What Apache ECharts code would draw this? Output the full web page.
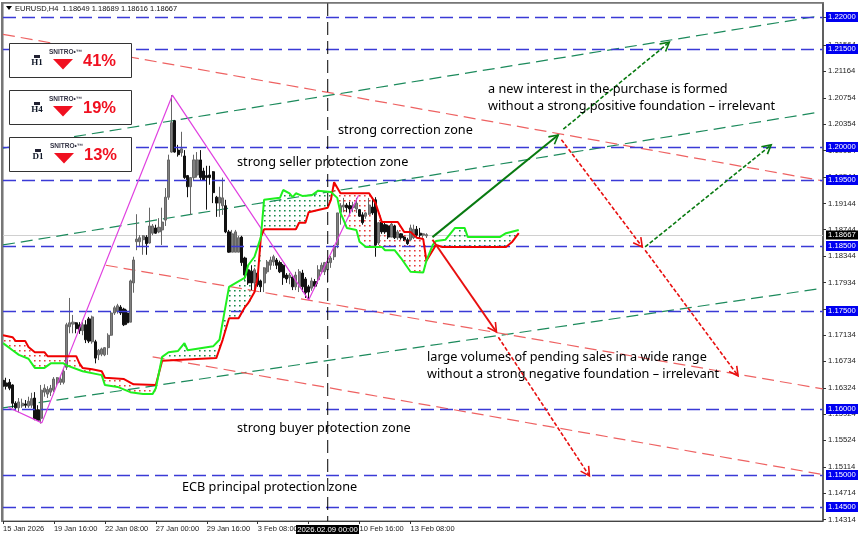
<!DOCTYPE html>
<html><head><meta charset="utf-8"><title>EURUSD H4</title>
<style>html,body{margin:0;padding:0;background:#fff}#c{width:860px;height:538px}</style>
<script src="https://cdn.jsdelivr.net/npm/echarts@6/dist/echarts.min.js"></script>
</head><body><div id="c"></div>
<script>
const timeTickBars=[0,16,32,48,64,80,96,112,128];
const timeTickLabels=["15 Jan 2026","19 Jan 16:00","22 Jan 08:00","27 Jan 00:00","29 Jan 16:00","3 Feb 08:00","6 Feb 00:00","10 Feb 16:00","13 Feb 08:00"];
const priceTicks=[1.21984,1.21564,1.21164,1.20754,1.20354,1.19954,1.19544,1.19144,1.18744,1.18344,1.17934,1.17534,1.17134,1.16734,1.16324,1.15924,1.15524,1.15114,1.14714,1.14314];
const levels=[1.22,1.215,1.2,1.195,1.185,1.175,1.16,1.15,1.145];
const lastPrice=1.18667;
const cursorBar=102;
// [open, close, low, high]
const candles=[
[1.1644,1.1635,1.1629,1.1651],[1.1640,1.1635,1.1630,1.1648],[1.1641,1.1632,1.1629,1.1646],[1.1637,1.1609,1.1602,1.1638],[1.1609,1.1602,1.1597,1.1612],
[1.1602,1.1611,1.1595,1.1617],[1.1605,1.1609,1.1602,1.1616],[1.1608,1.1606,1.1602,1.1614],[1.1605,1.1612,1.1602,1.1619],[1.1606,1.1616,1.1602,1.1625],
[1.1617,1.1585,1.1583,1.1626],[1.1599,1.1583,1.1582,1.1606],[1.1586,1.1629,1.1578,1.1637],[1.1626,1.1632,1.1619,1.1638],[1.1623,1.1630,1.1617,1.1635],
[1.1626,1.1632,1.1620,1.1637],[1.1629,1.1646,1.1626,1.1649],[1.1640,1.1648,1.1635,1.1649],[1.1641,1.1646,1.1637,1.1651],[1.1641,1.1658,1.1638,1.1661],
[1.1664,1.1729,1.1660,1.1732],[1.1726,1.1732,1.1716,1.1770],[1.1730,1.1733,1.1716,1.1744],[1.1732,1.1723,1.1716,1.1733],[1.1729,1.1720,1.1715,1.1733],
[1.1720,1.1729,1.1713,1.1733],[1.1729,1.1706,1.1701,1.1736],[1.1738,1.1704,1.1701,1.1741],[1.1703,1.1741,1.1700,1.1743],[1.1703,1.1678,1.1670,1.1706],
[1.1683,1.1690,1.1675,1.1692],[1.1684,1.1692,1.1681,1.1694],[1.1683,1.1694,1.1681,1.1695],[1.1694,1.1713,1.1683,1.1716],[1.1713,1.1747,1.1712,1.1750],
[1.1747,1.1755,1.1744,1.1758],[1.1749,1.1758,1.1746,1.1761],[1.1756,1.1747,1.1744,1.1759],[1.1753,1.1729,1.1727,1.1755],[1.1747,1.1732,1.1729,1.1752],
[1.1733,1.1796,1.1733,1.1798],[1.1793,1.1828,1.1778,1.1833],[1.1856,1.1860,1.1843,1.1898],[1.1856,1.1862,1.1848,1.1866],[1.1859,1.1865,1.1836,1.1866],
[1.1863,1.1853,1.1836,1.1866],[1.1854,1.1880,1.1853,1.1908],[1.1869,1.1880,1.1866,1.1883],[1.1877,1.1869,1.1868,1.1882],[1.1871,1.1878,1.1869,1.1892],
[1.1874,1.1886,1.1851,1.1908],[1.1889,1.1924,1.1880,1.1938],[1.1924,1.1981,1.1920,1.1989],[1.1993,1.2038,1.1992,1.2080],[1.2041,1.1993,1.1992,1.2042],
[1.1996,1.1989,1.1986,1.2004],[1.1992,1.1998,1.1986,1.2024],[1.1987,1.1954,1.1952,1.1996],[1.1957,1.1940,1.1924,1.1958],[1.1940,1.1954,1.1897,1.1954],
[1.1954,1.1981,1.1950,1.1989],[1.1958,1.1981,1.1954,1.1993],[1.1981,1.1954,1.1950,1.1996],[1.1964,1.1950,1.1949,1.1969],[1.1957,1.1954,1.1905,1.1972],
[1.1958,1.1954,1.1943,1.1972],[1.1963,1.1931,1.1915,1.1964],[1.1924,1.1915,1.1894,1.1926],[1.1915,1.1924,1.1894,1.1940],[1.1911,1.1923,1.1897,1.1954],
[1.1911,1.1871,1.1869,1.1920],[1.1871,1.1840,1.1839,1.1874],[1.1840,1.1868,1.1840,1.1874],[1.1840,1.1871,1.1840,1.1874],[1.1840,1.1862,1.1840,1.1865],
[1.1863,1.1824,1.1819,1.1865],[1.1831,1.1805,1.1798,1.1833],[1.1813,1.1793,1.1790,1.1816],[1.1811,1.1793,1.1782,1.1820],[1.1793,1.1813,1.1779,1.1816],
[1.1808,1.1790,1.1787,1.1810],[1.1796,1.1787,1.1779,1.1798],[1.1793,1.1816,1.1779,1.1817],[1.1810,1.1825,1.1807,1.1828],[1.1820,1.1828,1.1813,1.1833],
[1.1825,1.1833,1.1819,1.1836],[1.1828,1.1820,1.1814,1.1831],[1.1824,1.1810,1.1808,1.1827],[1.1820,1.1801,1.1790,1.1822],[1.1805,1.1799,1.1793,1.1808],
[1.1801,1.1805,1.1791,1.1808],[1.1802,1.1787,1.1782,1.1804],[1.1787,1.1805,1.1782,1.1810],[1.1787,1.1810,1.1779,1.1814],[1.1808,1.1787,1.1779,1.1813],
[1.1799,1.1778,1.1770,1.1802],[1.1787,1.1779,1.1767,1.1790],[1.1785,1.1796,1.1781,1.1801],[1.1795,1.1788,1.1785,1.1799],[1.1798,1.1813,1.1791,1.1820],
[1.1810,1.1820,1.1807,1.1824],[1.1810,1.1824,1.1805,1.1825],[1.1813,1.1825,1.1793,1.1831],[1.1824,1.1831,1.1816,1.1834],[1.1833,1.1848,1.1828,1.1851],
[1.1851,1.1900,1.1846,1.1900],[1.1901,1.1911,1.1882,1.1915],[1.1909,1.1912,1.1901,1.1923],[1.1912,1.1908,1.1901,1.1915],[1.1911,1.1906,1.1897,1.1917],
[1.1908,1.1912,1.1901,1.1917],[1.1906,1.1915,1.1900,1.1923],[1.1905,1.1895,1.1894,1.1906],[1.1897,1.1885,1.1882,1.1901],[1.1895,1.1900,1.1891,1.1901],
[1.1898,1.1912,1.1897,1.1923],[1.1909,1.1900,1.1897,1.1924],[1.1920,1.1851,1.1833,1.1924],[1.1854,1.1885,1.1851,1.1886],[1.1886,1.1871,1.1868,1.1888],
[1.1882,1.1871,1.1868,1.1885],[1.1880,1.1863,1.1860,1.1882],[1.1863,1.1883,1.1863,1.1885],[1.1880,1.1862,1.1860,1.1882],[1.1862,1.1871,1.1859,1.1874],
[1.1868,1.1862,1.1859,1.1869],[1.1863,1.1859,1.1857,1.1865],[1.1859,1.1853,1.1851,1.1862],[1.1859,1.1877,1.1857,1.1882],[1.1862,1.1875,1.1860,1.1882],
[1.1875,1.1866,1.1862,1.1880],[1.1869,1.1866,1.1862,1.1877],[1.1866,1.1868,1.1862,1.1869],[1.18649,1.18667,1.18616,1.18689]];
// [bar, price]
const spanA=[[0,1.1701],[3,1.1690],[5,1.1683],[8,1.1677],[10,1.1663],[13,1.1663],[15,1.1670],[19,1.1670],[20,1.1667],[25,1.1658],[31,1.1652],[32,1.1637],[36,1.1634],[40,1.1626],[44,1.1623],[47,1.1623],[48,1.1632],[50,1.1680],[52,1.1687],[55,1.1689],[57,1.1701],[58,1.1690],[66,1.1696],[68,1.1706],[71,1.1787],[76,1.1801],[77,1.1820],[79,1.1833],[81,1.1863],[82,1.1920],[87,1.1923],[88,1.1935],[90,1.1930],[91,1.1924],[92,1.1930],[94,1.1926],[97,1.1927],[99,1.1934],[103,1.1932],[105,1.1923],[106,1.1900],[107,1.1889],[108,1.1877],[111,1.1874],[112,1.1856],[114,1.1848],[119,1.1848],[120,1.1843],[123,1.1843],[125,1.1831],[128,1.1810],[132,1.1809],[133,1.1827],[135,1.1851],[136,1.1857],[139,1.1859],[142,1.1877],[145,1.1877],[146,1.1863],[156,1.1863],[158,1.1869],[162,1.1874]];
const spanB=[[0,1.1713],[3,1.1710],[4,1.1704],[7,1.1704],[8,1.1695],[10,1.1687],[13,1.1687],[14,1.1681],[23,1.1681],[24,1.1670],[25,1.1663],[28,1.1661],[31,1.1658],[32,1.1648],[38,1.1646],[41,1.1638],[48,1.1637],[50,1.1674],[67,1.1678],[69,1.1706],[71,1.1739],[74,1.1739],[76,1.1756],[77,1.1762],[79,1.1779],[80,1.1802],[81,1.1863],[82,1.1875],[92,1.1875],[93,1.1885],[95,1.1885],[96,1.1901],[102,1.1908],[103,1.1920],[104,1.1947],[106,1.1930],[115,1.1930],[117,1.1915],[119,1.1886],[124,1.1886],[126,1.1871],[128,1.1871],[130,1.1862],[132,1.1860],[133,1.1827],[136,1.1851],[138,1.1848],[158,1.1848],[160,1.1856],[162,1.1869]];
const zigzag=[[1.6,1.1603],[12.2,1.1579],[53.2,1.2080],[96,1.1767],[111.7,1.1927]];
const greenChannels=[[[0,1.1999],[256.3,1.2201]],[[0,1.1851],[256.3,1.2054]],[[0,1.1602],[256.3,1.1784]]];
const redChannels=[[[0,1.2173],[257.5,1.1949]],[[32.3,1.1820],[257.5,1.1631]],[[47,1.1680],[257.5,1.1500]]];
// [bar from, price from, bar to, price to]
const arrowsSolidGreen=[[134.9,1.1863,174.4,1.2019]];
const arrowsDashedGreen=[[176,1.2028,209.3,1.2161],[201.7,1.1848,241.3,1.2004]];
const arrowsSolidRed=[[134.9,1.1859,155,1.1718]];
const arrowsDashedRed=[[175.4,1.2012,200.8,1.1848],[155.6,1.1710,184.2,1.1498],[201.7,1.1843,230.9,1.1651]];
const panels=[{tf:"H1",pct:"41%"},{tf:"H4",pct:"19%"},{tf:"D1",pct:"13%"}];
const notes=[
 ["strong correction zone",338,130],
 ["strong seller protection zone",237,162],
 ["a new interest in the purchase is formed",488,89],
 ["without a strong positive foundation \u2013 irrelevant",488,106],
 ["large volumes of pending sales in a wide range",427,357],
 ["without a strong negative foundation \u2013 irrelevant",427,374],
 ["strong buyer protection zone",237,428],
 ["ECB principal protection zone",182,487]];

const BLUE='#3a3ad6', TAGBLUE='#0000f0', UI='"Liberation Sans",Arial,sans-serif';
function at(line,i){
  if(i<line[0][0]||i>line[line.length-1][0])return null;
  for(let k=1;k<line.length;k++){if(i<=line[k][0]){const a=line[k-1],b=line[k];return a[1]+(b[1]-a[1])*(i-a[0])/(b[0]-a[0]);}}
  return null;
}
function hatch(params,api){
  const kids=[];const end=162;
  for(let i=0.3;i<end;i+=1.57){
    const a=at(spanA,i),b=at(spanB,i);if(a==null||b==null)continue;
    const px=api.coord([i,a]),py=api.coord([i,b]);
    const top=Math.min(px[1],py[1]),bot=Math.max(px[1],py[1]);
    const col=a>b?'#1a8c4a':'#e63a3a';
    for(let y=Math.ceil((top+1)/5)*5;y<bot-1;y+=5){
      kids.push({type:'rect',shape:{x:Math.round(px[0]),y:y,width:1.6,height:1.6},style:{fill:col}});
    }
  }
  return {type:'group',children:kids,silent:true};
}
function levelItem(params,api){
  const c=params.coordSys;const v=api.value(1);const y=Math.round(api.coord([0,v])[1])+.5;
  return {type:'group',children:[
    {type:'line',shape:{x1:c.x,y1:y,x2:c.x+c.width,y2:y},style:{stroke:BLUE,lineWidth:1.3,lineDash:[13,6]}},
    {type:'rect',shape:{x:826,y:y-5.5,width:32,height:10},style:{fill:TAGBLUE}},
    {type:'text',style:{x:842,y:y-.5,text:v.toFixed(5),fill:'#fff',font:'7.7px '+UI,textAlign:'center',textVerticalAlign:'middle'}}
  ]};
}
function lastItem(params,api){
  const c=params.coordSys;const v=api.value(1);const y=Math.round(api.coord([0,v])[1])+.5;
  return {type:'group',children:[
    {type:'line',shape:{x1:c.x,y1:y,x2:c.x+c.width,y2:y},style:{stroke:'#d0d0d0',lineWidth:1}},
    {type:'rect',shape:{x:826,y:y-5,width:32,height:9},style:{fill:'#000'}},
    {type:'text',style:{x:842,y:y-.5,text:v.toFixed(5),fill:'#fff',font:'7.7px '+UI,textAlign:'center',textVerticalAlign:'middle'}}
  ]};
}
function arrowSeries(rows,color,dash){
  return {type:'custom',data:rows,z:6,silent:true,encode:{x:[0,2],y:[1,3]},
    renderItem(params,api){
      const p=api.coord([api.value(0),api.value(1)]),q=api.coord([api.value(2),api.value(3)]);
      const t=Math.atan2(q[1]-p[1],q[0]-p[0]),L=10,s=.5;
      return {type:'group',children:[
        {type:'line',shape:{x1:p[0],y1:p[1],x2:q[0],y2:q[1]},style:{stroke:color,lineWidth:dash?1.6:2,lineDash:dash?[4,2]:null}},
        {type:'polyline',shape:{points:[[q[0]-L*Math.cos(t-s),q[1]-L*Math.sin(t-s)],[q[0],q[1]],[q[0]-L*Math.cos(t+s),q[1]-L*Math.sin(t+s)]]},style:{stroke:color,lineWidth:1.6,fill:null}}
      ]};
    }};
}
function lineS(data,color,width,dash,z){
  return {type:'line',data,showSymbol:false,silent:true,z:z||3,lineStyle:{color,width,type:dash||'solid'},clip:false};
}
const graphics=[];
graphics.push({type:'rect',shape:{x:1,y:2,width:2,height:520},style:{fill:'#777'},z:19});
graphics.push({type:'rect',shape:{x:1,y:2,width:823,height:1.5},style:{fill:'#777'},z:19});
graphics.push({type:'polygon',shape:{points:[[6,6],[12,6],[9,10]]},style:{fill:'#000'},z:20});
graphics.push({type:'text',x:15,y:4.5,style:{text:'EURUSD,H4  1.18649 1.18689 1.18616 1.18667',fill:'#111',font:'7.5px '+UI},z:20});
panels.forEach((p,k)=>{
  const top=43+47*k;const dx=k==2?1:0;
  graphics.push({type:'rect',shape:{x:9.5,y:top+.5,width:122,height:34},style:{fill:'#fff',stroke:'#333',lineWidth:1},z:20});
  graphics.push({type:'rect',shape:{x:34+dx,y:top+12,width:6,height:3},style:{fill:'#223'},z:21});
  graphics.push({type:'text',x:37+dx,y:top+15,style:{text:p.tf,fill:'#101828',font:'bold 9px "Liberation Serif",serif',textAlign:'center'},z:21});
  graphics.push({type:'text',x:49+dx,y:top+6,style:{text:'SNITRO\u2022\u2122',fill:'#334',font:'bold 6.5px '+UI},z:21});
  graphics.push({type:'polygon',shape:{points:[[53+dx,top+16],[73+dx,top+16],[63+dx,top+26.5]]},style:{fill:'#f01020'},z:21});
  graphics.push({type:'text',x:83+dx,y:top+10,style:{text:p.pct,fill:'#f01020',font:'bold 16.5px '+UI},z:21});
});
notes.forEach(n=>graphics.push({type:'text',x:n[1],y:n[2],style:{text:n[0],fill:'#000',font:'12.7px "Noto Sans",sans-serif',textVerticalAlign:'middle'},z:20}));
graphics.push({type:'rect',shape:{x:296,y:525,width:63,height:9},style:{fill:'#000'},z:20});
graphics.push({type:'text',x:327.5,y:529.5,style:{text:'2026.02.09 00:00',fill:'#fff',font:'7.8px '+UI,textAlign:'center',textVerticalAlign:'middle'},z:21});

const chart=echarts.init(document.getElementById('c'),null,{renderer:'canvas'});
chart.setOption({
 animation:false,backgroundColor:'#fff',
 grid:{left:2,top:3,width:821,height:518,show:true,borderColor:'#6a6a6a',borderWidth:1,backgroundColor:'#fff'},
 xAxis:{type:'value',min:0,max:257.57,splitLine:{show:false},
   axisLine:{show:true,onZero:false,lineStyle:{color:'#444',width:1}},
   axisTick:{show:true,length:3,lineStyle:{color:'#333'},customValues:timeTickBars},
   axisLabel:{customValues:timeTickBars,align:'left',margin:4,color:'#222',fontFamily:'Liberation Sans',fontSize:7.5,hideOverlap:false,
     formatter:v=>timeTickLabels[timeTickBars.indexOf(v)]}},
 yAxis:{type:'value',position:'right',min:1.1429,max:1.22209,splitLine:{show:false},scale:true,
   axisLine:{show:true,onZero:false,lineStyle:{color:'#444',width:1.5}},
   axisTick:{show:true,length:3,lineStyle:{color:'#333'},customValues:priceTicks},
   axisLabel:{customValues:priceTicks,margin:5,color:'#222',fontFamily:'Liberation Sans',fontSize:7.7,hideOverlap:false,formatter:v=>v.toFixed(5)}},
 graphic:graphics,
 series:[
  {type:'custom',data:[[0,lastPrice]],renderItem:lastItem,z:2,silent:true},
  {type:'custom',data:[[0,0]],renderItem:hatch,z:3,silent:true},
  {type:'candlestick',data:candles.map((c,i)=>[i,...c]),encode:{x:0,y:[1,2,3,4]},barWidth:2.6,z:4,silent:true,clip:false,
   itemStyle:{color:'#808080',color0:'#111',borderColor:'#666',borderColor0:'#111',borderWidth:1}},
  {type:'custom',data:levels.map(v=>[0,v]),renderItem:levelItem,z:5,silent:true},
  ...greenChannels.map(d=>lineS(d,'#1c8a5c',1.2,[12,6])),
  ...redChannels.map(d=>lineS(d,'#ee6262',1.2,[12,6])),
  lineS(zigzag,'#e040e0',1.2,null,5),
  lineS([[cursorBar,1.22209],[cursorBar,1.1429]],'#000',1,[13,6],6),
  lineS(spanB,'#f00000',2,null,5),
  lineS(spanA,'#1ef01e',2,null,5),
  arrowSeries(arrowsSolidGreen,'#087a10',false),
  arrowSeries(arrowsDashedGreen,'#087a10',true),
  arrowSeries(arrowsSolidRed,'#e81010',false),
  arrowSeries(arrowsDashedRed,'#e81010',true)
 ]
});
</script></body></html>
